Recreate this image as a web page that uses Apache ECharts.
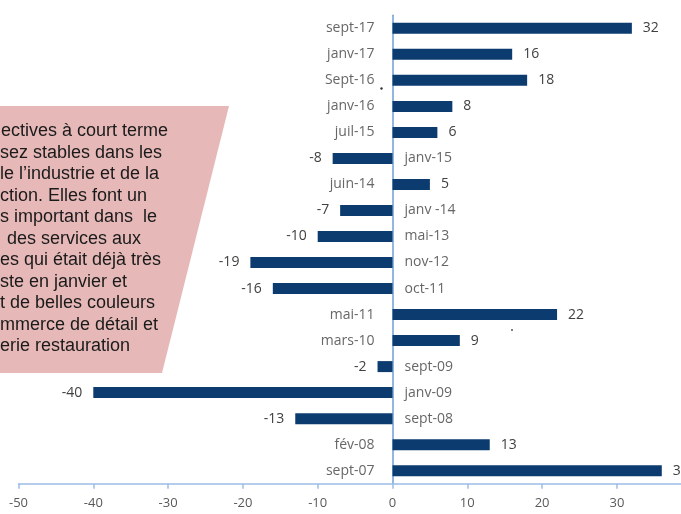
<!DOCTYPE html>
<html>
<head>
<meta charset="utf-8">
<script src="https://cdn.jsdelivr.net/npm/echarts@6/dist/echarts.min.js"></script>
<style>
html,body{margin:0;padding:0;background:#fff;}
#chart{width:681px;height:514px;}
</style>
</head>
<body>
<div id="chart"></div>
<script>
// Data (top to bottom)
var categories = ['sept-17','janv-17','Sept-16','janv-16','juil-15','janv-15','juin-14','janv -14','mai-13','nov-12','oct-11','mai-11','mars-10','sept-09','janv-09','sept-08','fév-08','sept-07'];
var values = [32,16,18,8,6,-8,5,-7,-10,-19,-16,22,9,-2,-40,-13,13,36];
var xTicks = { min: -50, max: 40, interval: 10 };
var noteLines = [
  'ectives à court terme',
  'sez stables dans les',
  'le l’industrie et de la',
  'ction. Elles font un',
  's important dans  le',
  'des services aux',
  'es qui était déjà très',
  'ste en janvier et',
  't de belles couleurs',
  'mmerce de détail et',
  'erie restauration'
];

var FONT = '"Open Sans", sans-serif';
var barData = values.map(function (v, i) {
  return { value: [v, categories[i]], label: { position: v >= 0 ? 'right' : 'left' } };
});
var catData = values.map(function (v, i) {
  return {
    value: [0, categories[i]],
    label: { position: v >= 0 ? 'left' : 'right', distance: v >= 0 ? 18 : 12, formatter: categories[i] }
  };
});

var noteOffsets = [1,0,0,0,0,7,0,0,0,0,0];
var graphics = [{
  type: 'polygon', z: 0, silent: true,
  shape: { points: [[0,106],[229,106],[162,373],[0,373]] },
  style: { fill: '#e6b9b8' }
}];
noteLines.forEach(function (t, i) {
  graphics.push({
    type: 'text', z: 1, silent: true,
    x: noteOffsets[i], y: 131.5 + i * 21.5,
    style: { text: t, fill: '#1a1a1a', font: '18px "Liberation Sans", Arial, sans-serif', textVerticalAlign: 'middle', textAlign: 'left' }
  });
});
graphics.push({ type: 'circle', silent: true, shape: { cx: 381.5, cy: 88.5, r: 1.2 }, style: { fill: '#333' } });
graphics.push({ type: 'circle', silent: true, shape: { cx: 512, cy: 330, r: 1 }, style: { fill: '#555' } });

var chart = echarts.init(document.getElementById('chart'), null, { renderer: 'canvas' });
chart.setOption({
  animation: false,
  backgroundColor: '#ffffff',
  graphic: graphics,
  grid: { left: 18.5, right: -10.7, top: 15.3, bottom: 30.3, containLabel: false, outerBoundsMode: 'none' },
  xAxis: {
    type: 'value', min: xTicks.min, max: xTicks.max, interval: xTicks.interval,
    splitLine: { show: false },
    axisLine: { show: true, onZero: false, lineStyle: { color: '#9dbde6', width: 1.5 } },
    axisTick: { show: true, length: 5, lineStyle: { color: '#9dbde6', width: 1.5 } },
    axisLabel: { color: '#595959', fontFamily: FONT, fontSize: 13, margin: 13 }
  },
  yAxis: {
    type: 'category', data: categories, inverse: true,
    axisLine: { show: true, onZero: true, lineStyle: { color: '#6f9fd8', width: 1.5 } },
    axisTick: { show: false },
    axisLabel: { show: false },
    splitLine: { show: false }
  },
  series: [{
    type: 'bar',
    data: barData,
    barWidth: 11,
    itemStyle: { color: '#0b3b6f' },
    label: { show: true, distance: 11, color: '#404040', fontFamily: FONT, fontSize: 14,
      formatter: function (p) { return p.value[0]; } },
    z: 2
  }, {
    type: 'scatter',
    data: catData,
    symbolSize: 0,
    label: { show: true, color: '#404040', fontFamily: FONT, fontSize: 14 },
    z: 3
  }]
});
</script>
</body>
</html>
